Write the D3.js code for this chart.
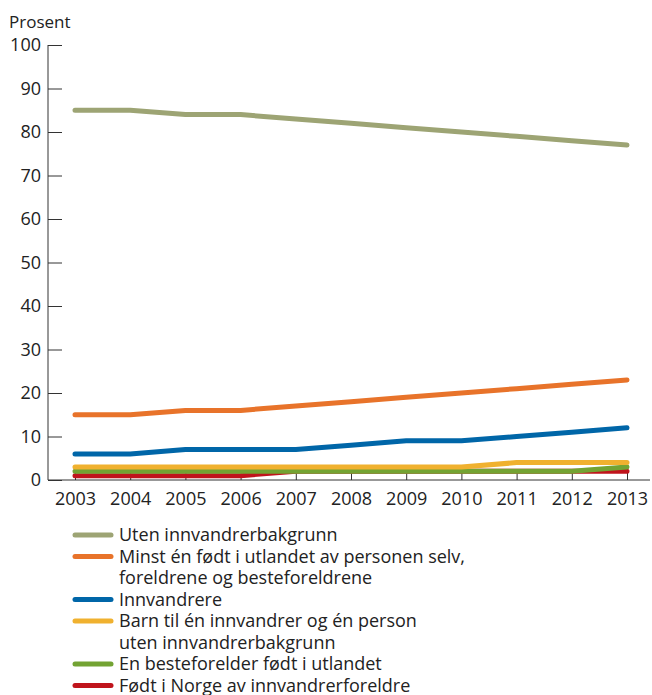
<!DOCTYPE html>
<html>
<head>
<meta charset="utf-8">
<script src="https://cdn.jsdelivr.net/npm/d3@7"></script>
<style>
  body { margin: 0; background: #fff; }
  svg { font-family: "Open Sans", sans-serif; }
</style>
</head>
<body>
<svg></svg>
<script>
// data
let years = [2003, 2004, 2005, 2006, 2007, 2008, 2009, 2010, 2011, 2012, 2013];
let uten = [85, 85, 84, 84, 83, 82, 81, 80, 79, 78, 77];
let minst = [15, 15, 16, 16, 17, 18, 19, 20, 21, 22, 23];
let innvandrere = [6, 6, 7, 7, 7, 8, 9, 9, 10, 11, 12];
let barn = [3, 3, 3, 3, 3, 3, 3, 3, 4, 4, 4];
let besteforelder = [2, 2, 2, 2, 2, 2, 2, 2, 2, 2, 3];
let fodtNorge = [1, 1, 1, 1, 2, 2, 2, 2, 2, 2, 2];
let yTicks = [0, 10, 20, 30, 40, 50, 60, 70, 80, 90, 100];

let seriesList = [
    { label: ["Uten innvandrerbakgrunn"], values: uten, color: "#9da474" },
    { label: ["Minst én født i utlandet av personen selv,", "foreldrene og besteforeldrene"], values: minst, color: "#e8732a" },
    { label: ["Innvandrere"], values: innvandrere, color: "#0066a8" },
    { label: ["Barn til én innvandrer og én person", "uten innvandrerbakgrunn"], values: barn, color: "#f0b12f" },
    { label: ["En besteforelder født i utlandet"], values: besteforelder, color: "#73a333" },
    { label: ["Født i Norge av innvandrerforeldre"], values: fodtNorge, color: "#c0141c" }
];

let svgWidth = 652;
let svgHeight = 695;
let axisX = 48;
let y0 = 480;

let svg = d3.select('svg')
    .attr("width", svgWidth)
    .attr("height", svgHeight);

let scaledX = d3.scaleLinear()
    .domain([2003, 2013])
    .range([75, 627]);

let scaledY = d3.scaleLinear()
    .domain([0, 100])
    .range([y0, 45]);

// y axis, ticks pointing into the plot
let axsLeft = d3.axisLeft(scaledY).tickValues(yTicks).tickSize(-14).tickPadding(7);
let gy = svg.append('g')
    .attr("transform", "translate(" + axisX + ",0)")
    .call(axsLeft);
gy.select('.domain').attr('stroke', '#333').attr('d', 'M0,' + scaledY(100) + 'V' + y0);
gy.selectAll('.tick line').attr('stroke', '#333');
gy.selectAll('.tick text').attr('font-size', 18).attr('fill', '#222').attr('font-family', '"Open Sans", sans-serif');

// x axis
let axsBottom = d3.axisBottom(scaledX).tickValues(years).tickFormat(d3.format('d')).tickSize(-7).tickPadding(12);
let gx = svg.append('g')
    .attr("transform", "translate(0," + y0 + ")")
    .call(axsBottom);
gx.select('.domain').attr('stroke', '#333').attr('d', 'M' + axisX + ',0H650');
gx.selectAll('.tick line').attr('stroke', '#333');
gx.selectAll('.tick text').attr('font-size', 18).attr('fill', '#222').attr('font-family', '"Open Sans", sans-serif');

svg.append('text')
    .attr('x', 9).attr('y', 28)
    .attr('font-size', 17).attr('fill', '#222')
    .text('Prosent');

// lines, last series drawn first so upper ones sit on top
let lineGenerator = d3.line()
    .x((d, i) => scaledX(years[i]))
    .y(d => scaledY(d));

svg.append('g').selectAll('path')
    .data(seriesList.slice().reverse())
    .enter().append('path')
    .attr('fill', 'none')
    .attr('stroke', d => d.color)
    .attr('stroke-width', 5)
    .attr('stroke-linecap', 'round')
    .attr('stroke-linejoin', 'round')
    .attr('d', d => lineGenerator(d.values));

// legend
let rowY = 535;
let lineH = 21.5;
let legend = svg.append('g');
seriesList.forEach(function(s) {
    legend.append('line')
        .attr('x1', 75).attr('x2', 111)
        .attr('y1', rowY).attr('y2', rowY)
        .attr('stroke', s.color).attr('stroke-width', 5)
        .attr('stroke-linecap', 'round');
    s.label.forEach(function(t, j) {
        legend.append('text')
            .attr('x', 119).attr('y', rowY + j * lineH)
            .attr('dy', '0.35em')
            .attr('font-size', 18).attr('fill', '#222')
            .text(t);
    });
    rowY += lineH * s.label.length;
});
</script>
</body>
</html>
